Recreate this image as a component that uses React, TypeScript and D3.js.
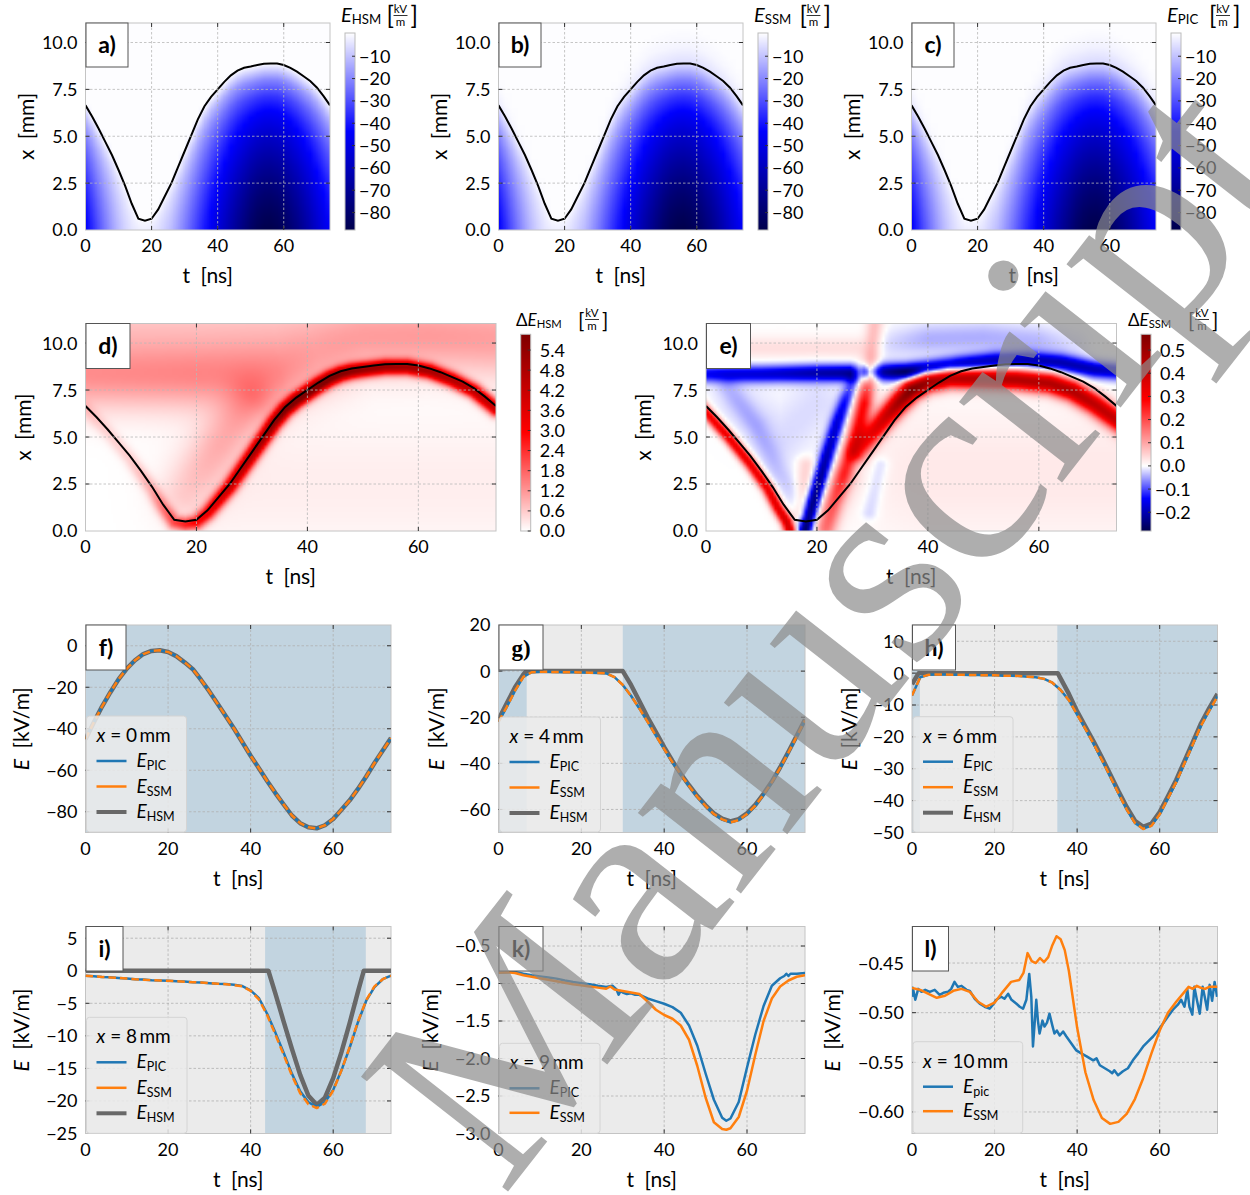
import React, { useMemo } from "react";
import * as d3 from "d3";

// ======================= DATA =======================
// time samples (ns)
const tGrid = [0,2,4,6,8,10,12,14,16,18,20,22,24,26,28,30,32,34,36,38,40,42,44,46,48,50,52,54,56,58,60,62,64,66,68,70,72,74];
// black curve: sheath edge (mm)
const sheathEdge = [6.65,6.05,5.4,4.7,4.0,3.2,2.35,1.4,0.6,0.5,0.6,1.1,1.8,2.5,3.35,4.2,5.05,5.9,6.6,7.1,7.5,7.9,8.25,8.5,8.65,8.72,8.8,8.87,8.88,8.88,8.8,8.65,8.45,8.2,7.95,7.6,7.15,6.65];
// field at electrode x = 0 (kV/m)
const fieldAtWall = [-45,-37,-29.3,-22.5,-16.2,-11,-7,-4,-2.5,-2.2,-3,-5,-8,-11.3,-16.5,-22,-28,-34,-40,-46.5,-53,-59,-65.2,-71,-76.5,-81.8,-85.5,-87.5,-88,-86.5,-83.5,-79,-74.5,-69,-63,-56.5,-50.5,-44.5];
// field profile E/E(0) versus x / sheath edge
const shapeRatio = [0,0.1,0.2,0.3,0.4,0.5,0.6,0.7,0.8,0.9,1.0,1.1,1.2];
const shapeHSM = [1,0.96,0.91,0.85,0.78,0.70,0.62,0.52,0.40,0.24,0,0,0];
const shapeSSM = [1,0.96,0.91,0.85,0.78,0.70,0.62,0.52,0.40,0.25,0.06,0.015,0];
const shapePIC = [1,0.96,0.91,0.85,0.78,0.70,0.62,0.52,0.41,0.26,0.07,0.02,0];

// ΔE_HSM structures: [t, x, value] ridges and their width (px)
const dEdgeRidge = [[0,6.5,0.4],[4,5.25,0.45],[8,3.85,0.55],[12,2.2,0.9],[14,1.25,1.4],[16,0.45,2.0],[18,0.35,2.4],[20,0.45,2.8],[22,0.95,3.2],[24,1.65,3.6],[26,2.35,4.0],[28,3.2,4.3],[30,4.05,4.6],[32,4.9,4.9],[34,5.75,5.2],[36,6.45,5.5],[38,6.95,5.7],[40,7.35,5.8],[42,7.75,5.7],[44,8.1,5.5],[46,8.35,5.2],[48,8.5,5.0],[50,8.58,4.8],[54,8.72,4.6],[58,8.72,4.5],[62,8.5,4.5],[66,8.05,4.4],[70,7.45,4.3],[74,6.5,4.2]];
const dUpperBand = [[-3,8.3,1.25],[20,8.3,1.35],[35,8.45,1.25],[42,9.0,0.9],[50,9.8,0.7],[62,9.9,0.7],[77,9.6,0.7]];
const dTopStrip = [[-3,10.9,0.55],[77,10.9,0.55]];
const dWedge = [[18,2.0,0.5],[24,4.5,0.8],[30,6.8,0.9]];
const dInsideFaint = [[26,2.5,0.2],[77,2.5,0.2]];
const dWidths = [5, 24, 22, 18, 45];

// ΔE_SSM structures
const eBlueBand = [[-3,8.35,-0.14],[10,8.35,-0.17],[20,8.4,-0.2],[26,8.4,-0.22],[27.7,8.4,-0.1],[28.8,8.42,-0.2],[29.6,8.45,-0.11],[32,8.45,-0.22],[36,8.45,-0.28],[40,8.6,-0.25],[46,8.85,-0.22],[52,9.05,-0.2],[58,9.1,-0.2],[64,8.95,-0.2],[70,8.6,-0.2],[77,8.4,-0.17]];
const eBlueHalo = [[32,9.9,-0.02],[40,10.2,-0.045],[50,10.3,-0.045],[60,10.1,-0.04],[66,9.8,-0.02]];
const eBlueStrand = [[17.6,-0.3,-0.28],[18.8,1.0,-0.27],[20.3,2.5,-0.24],[22,4.2,-0.2],[23.7,5.8,-0.17],[25.2,7.0,-0.13],[26.5,7.9,-0.08]];
const eBlueLeft = [[4,7.6,-0.03],[9,5.6,-0.035],[13,3.2,-0.03],[16.5,1.6,-0.025]];
const eBlueWide = [[6,6.8,-0.015],[14,5.0,-0.02],[20,6.8,-0.02]];
const eRedEdgeLeft = [[-1,6.65,0.3],[4,5.0,0.33],[8,3.55,0.33],[11,2.3,0.33],[13,1.2,0.35],[14.5,0.5,0.38],[15.5,-0.3,0.38]];
const eRedStrand = [[21.5,-0.3,0.08],[23,1.5,0.12],[25,3.2,0.2],[27,5.0,0.28],[28.5,6.8,0.28],[29.5,8.5,0.1],[30.5,11.3,0.07]];
const eRedRising = [[27.5,4.2,0.2],[30,5.2,0.32],[32.5,6.1,0.4],[35,6.9,0.5],[37,7.5,0.58],[40,7.95,0.52],[44,8.15,0.45],[50,8.1,0.45],[56,8.05,0.45],[62,7.85,0.45],[66,7.45,0.45],[70,6.75,0.42],[76,5.5,0.4]];
const eRedPale = [[21,0.3,0.08],[25,2.8,0.06]];
const eRedStrip = [[17.2,1.0,0.05],[18,3.5,0.05]];
const ePinkTop = [[-3,9.75,0.035],[27,9.75,0.035]];
const ePinkLower = [[40,3,0.025],[77,3,0.025]];
const eBlueRight = [[29.5,1.0,-0.03],[31.5,3.5,-0.03]];
const eWidths = [6, 11, 5, 8, 20, 4, 6, 7, 10, 6, 8, 50, 6];

// line panels
const fSpans = [[0,74]];
const gSpans = [[0,6.8],[30,74]];
const hSpans = [[0,1.9],[35.2,74]];
const iSpans = [[43.5,67.9]];

const gPic = [-22,-15.5,-8.5,-2.5,-0.5,-0.3,-0.3,-0.4,-0.5,-0.5,-0.6,-0.7,-0.8,-1.0,-2.6,-6,-10.7,-16.2,-22,-28,-33.8,-39.5,-44.8,-49.8,-54.5,-58.5,-62,-64.3,-65.5,-64.5,-62,-58.3,-53.5,-48.2,-42,-35.3,-28.3,-21.3];
const gSsm = [-22,-15.5,-8.5,-2.5,-0.5,-0.3,-0.3,-0.4,-0.5,-0.5,-0.6,-0.7,-0.8,-1.0,-2.6,-6,-10.7,-16.2,-22,-28,-33.8,-39.5,-44.8,-49.8,-54.5,-58.5,-62,-64.3,-65.6,-64.6,-62,-58.3,-53.5,-48.2,-42,-35.3,-28.3,-21.3];
const gHsmT = [0,2,4,6,6.7,30,32,34,36,38,40,42,44,46,48,50,52,54,56,58,60,62,64,66,68,70,72,74];
const gHsm = [-21,-14,-7,-1.5,0,0,-6,-13,-20,-26.5,-33,-39,-44.5,-49.5,-54.2,-58.2,-61.7,-64,-65.2,-64.2,-61.7,-58,-53.2,-47.9,-41.7,-35,-28,-21];

const hPic = [-7,-1.3,-0.5,-0.4,-0.4,-0.5,-0.5,-0.6,-0.6,-0.7,-0.7,-0.8,-0.8,-0.9,-1.1,-1.3,-1.8,-3,-5.3,-8.5,-13,-17.5,-22.2,-27.2,-32.4,-37.7,-42.8,-47,-48.8,-47.8,-44.3,-39.3,-34.2,-28.3,-22.4,-16.5,-11.8,-7.3];
const hSsm = [-7,-1.3,-0.5,-0.4,-0.4,-0.5,-0.5,-0.6,-0.6,-0.7,-0.7,-0.8,-0.8,-0.9,-1.1,-1.3,-1.8,-3,-5.3,-8.5,-13,-17.5,-22.2,-27.2,-32.4,-37.7,-42.8,-47,-48.9,-47.9,-44.3,-39.3,-34.2,-28.3,-22.4,-16.5,-11.8,-7.3];
const hHsmT = [0,1.6,35.3,38,40,42,44,46,48,50,52,54,56,58,60,62,64,66,68,70,72,74];
const hHsm = [-3.5,0,0,-6.5,-12,-16.8,-21.5,-26.5,-31.7,-37,-42,-46.3,-48.2,-47.2,-43.6,-38.6,-33.5,-27.6,-21.7,-15.8,-11,-6.5];

const iPic = [-0.75,-0.85,-0.95,-1.0,-1.1,-1.2,-1.3,-1.35,-1.45,-1.5,-1.55,-1.6,-1.65,-1.75,-1.8,-1.9,-2.0,-2.05,-2.15,-2.35,-3.0,-4.2,-6.6,-9.5,-12.6,-15.8,-18.5,-20.2,-20.9,-20.2,-18.3,-15.3,-11.8,-7.9,-4.6,-2.5,-1.3,-0.75];
const iSsm = [-0.75,-0.85,-0.95,-1.02,-1.1,-1.2,-1.3,-1.37,-1.45,-1.5,-1.55,-1.6,-1.67,-1.75,-1.8,-1.9,-2.0,-2.07,-2.2,-2.4,-3.1,-4.4,-6.8,-9.8,-12.9,-16.1,-18.8,-20.5,-21.1,-20.4,-18.4,-15.3,-11.7,-7.8,-4.5,-2.4,-1.3,-0.75];
const iHsmT = [0,44.3,46,48,50,52,54,56,58,60,62,64,66,67.4,74];
const iHsm = [0,0,-3.5,-7.8,-12,-16,-19.2,-20.6,-19.5,-16.5,-12.5,-8,-3.2,0,0];

const kPicT = [0,2,4,6,8,10,12,14,16,18,20,22,24,26,27.5,28.5,29,29.5,30,31,32,33,34,36,38,40,42,44,46,48,50,52,54,55,56,58,60,62,64,66,68,69,69.5,70,70.5,72,74];
const kPic = [-0.857,-0.85,-0.845,-0.87,-0.89,-0.905,-0.92,-0.935,-0.96,-0.98,-0.995,-1.01,-1.03,-1.045,-1.03,-1.08,-1.15,-1.1,-1.12,-1.14,-1.13,-1.15,-1.15,-1.2,-1.235,-1.27,-1.315,-1.39,-1.56,-1.83,-2.2,-2.55,-2.79,-2.83,-2.8,-2.58,-2.12,-1.68,-1.3,-1.03,-0.93,-0.9,-0.87,-0.9,-0.87,-0.87,-0.86];
const kSsmT = [0,2,4,6,8,10,12,14,16,18,20,22,24,26,27,28,30,32,34,36,38,40,42,44,46,48,50,52,54,55,56,58,60,62,64,66,68,70,72,74];
const kSsm = [-0.857,-0.85,-0.86,-0.89,-0.91,-0.93,-0.95,-0.97,-0.99,-1.01,-1.025,-1.04,-1.055,-1.07,-1.04,-1.08,-1.1,-1.12,-1.14,-1.24,-1.35,-1.42,-1.47,-1.56,-1.75,-2.1,-2.52,-2.85,-2.94,-2.95,-2.93,-2.78,-2.43,-1.95,-1.5,-1.2,-1.04,-0.96,-0.91,-0.89];

const lSsmT = [0,2,4,6,8,10,12,14,16,18,20,22,24,26,27,28,29,30,31,32,33,34,35,36,37,38,40,42,44,46,48,50,52,54,56,58,60,62,64,66,67,68,69,70,71,72,74];
const lSsm = [-0.475,-0.477,-0.481,-0.485,-0.483,-0.478,-0.476,-0.479,-0.489,-0.494,-0.490,-0.479,-0.469,-0.467,-0.460,-0.440,-0.448,-0.450,-0.445,-0.449,-0.444,-0.432,-0.423,-0.426,-0.437,-0.458,-0.515,-0.560,-0.588,-0.606,-0.612,-0.610,-0.602,-0.587,-0.566,-0.541,-0.518,-0.500,-0.489,-0.479,-0.474,-0.476,-0.473,-0.475,-0.476,-0.474,-0.474];
const lPicT = [0,0.2,0.8,1.5,2.3,3.2,4.3,5.5,6.7,7.6,8.7,9.5,10.3,11.1,12.0,13.2,14.0,15.2,16.4,17.6,18.8,19.6,20.4,21.6,22.4,23.3,24.1,25.3,26.1,26.9,27.7,28.4,28.9,29.3,29.7,30.1,30.5,30.9,31.6,32.1,32.7,33.3,34.0,34.5,35.1,35.8,36.6,37.4,38.6,39.8,41.0,42.3,43.9,44.7,45.5,46.7,47.9,48.5,49.0,49.9,51.1,52.3,53.5,54.8,56.0,57.2,58.4,59.6,60.8,62.0,63.2,64.4,65.2,66.0,66.7,67.2,67.9,68.4,69.0,69.7,70.4,70.9,71.5,72.1,72.7,73.3,73.9];
const lPic = [-0.484,-0.475,-0.487,-0.476,-0.479,-0.477,-0.479,-0.477,-0.482,-0.480,-0.479,-0.476,-0.469,-0.474,-0.473,-0.477,-0.478,-0.486,-0.491,-0.494,-0.496,-0.492,-0.487,-0.484,-0.486,-0.481,-0.487,-0.491,-0.494,-0.496,-0.487,-0.461,-0.484,-0.534,-0.511,-0.487,-0.508,-0.521,-0.508,-0.514,-0.510,-0.501,-0.513,-0.521,-0.518,-0.523,-0.519,-0.524,-0.531,-0.538,-0.541,-0.544,-0.548,-0.546,-0.553,-0.556,-0.559,-0.561,-0.558,-0.563,-0.559,-0.556,-0.548,-0.541,-0.534,-0.529,-0.524,-0.518,-0.511,-0.504,-0.497,-0.492,-0.487,-0.494,-0.477,-0.494,-0.502,-0.474,-0.487,-0.501,-0.474,-0.484,-0.497,-0.472,-0.488,-0.469,-0.484];

const heatXTicks = [0,20,40,60];
const heatYTicks = [0,2.5,5,7.5,10];
const cbTicksE = [-80,-70,-60,-50,-40,-30,-20,-10];
const cbTicksD = [0,0.6,1.2,1.8,2.4,3.0,3.6,4.2,4.8,5.4];
const cbTicksDE = [-0.2,-0.1,0,0.1,0.2,0.3,0.4,0.5];

// ======================= HELPERS =======================
const FONT = "Lato, 'DejaVu Sans', sans-serif";
const TICK_FS = 18;
const LAB_FS = 21;
const minus = (s: string) => s.replace(/-/g, "\u2212");
const T_MAX = 74;
const X_MAX = 11.04;

const seismicStops = [[0,0,0,77],[0.25,0,0,255],[0.5,255,255,255],[0.75,255,0,0],[1,128,0,0]];
function seismic(s: number): number[] {
  s = Math.max(0, Math.min(1, s));
  for (let i = 1; i < seismicStops.length; i++) {
    if (s <= seismicStops[i][0]) {
      const a = seismicStops[i - 1], b = seismicStops[i];
      const f = (s - a[0]) / (b[0] - a[0]);
      return [a[1] + f * (b[1] - a[1]), a[2] + f * (b[2] - a[2]), a[3] + f * (b[3] - a[3])];
    }
  }
  return [128, 0, 0];
}
const E_LO = -87.8, E_HI = 0.4;
const D_HI = 5.87;
const DE_LO = -0.281, DE_HI = 0.568;
const normE = (v: number) => 0.5 * (v - E_LO) / (E_HI - E_LO);
const normD = (v: number) => 0.5 + 0.5 * v / D_HI;
const normDE = (v: number) => (v < 0 ? 0.5 - 0.5 * v / DE_LO : 0.5 + 0.5 * v / DE_HI);

function lookup(xs: number[], ys: number[], r: number) {
  if (r <= xs[0]) return ys[0];
  if (r >= xs[xs.length - 1]) return ys[ys.length - 1];
  const i = d3.bisectRight(xs, r) - 1;
  const f = (r - xs[i]) / (xs[i + 1] - xs[i]);
  return ys[i] + f * (ys[i + 1] - ys[i]);
}

function featureSum(feats: number[][][], widths: number[], t: number, x: number, sx: number, sy: number) {
  let sum = 0;
  const px = t * sx, py = x * sy;
  feats.forEach((pts, k) => {
    let best = Infinity, amp = 0;
    for (let i = 0; i < pts.length - 1; i++) {
      const ax = pts[i][0] * sx, ay = pts[i][1] * sy;
      const dx = pts[i + 1][0] * sx - ax, dy = pts[i + 1][1] * sy - ay;
      const L2 = dx * dx + dy * dy;
      let u = L2 > 0 ? ((px - ax) * dx + (py - ay) * dy) / L2 : 0;
      u = Math.max(0, Math.min(1, u));
      const qx = ax + u * dx - px, qy = ay + u * dy - py;
      const d2 = qx * qx + qy * qy;
      if (d2 < best) { best = d2; amp = pts[i][2] + u * (pts[i + 1][2] - pts[i][2]); }
    }
    const s = widths[k];
    sum += amp * Math.exp(-best / (2 * s * s));
  });
  return sum;
}

function raster(cols: number, rows: number, val: (c: number, r: number) => number, norm: (v: number) => number) {
  const cv = document.createElement("canvas");
  cv.width = cols; cv.height = rows;
  const ctx = cv.getContext("2d")!;
  const img = ctx.createImageData(cols, rows);
  for (let r = 0; r < rows; r++) for (let c = 0; c < cols; c++) {
    const col = seismic(norm(val(c, r)));
    const k = 4 * (r * cols + c);
    img.data[k] = col[0]; img.data[k + 1] = col[1]; img.data[k + 2] = col[2]; img.data[k + 3] = 255;
  }
  ctx.putImageData(img, 0, 0);
  return cv.toDataURL();
}

const X_ROWS = 111; // x = 11.0 .. 0.0 step 0.1
const rowX = (r: number) => (X_ROWS - 1 - r) * 0.1;

function buildImages() {
  const heat = (shape: number[]) => raster(tGrid.length, X_ROWS, (c, r) => {
    const ratio = rowX(r) / sheathEdge[c];
    return fieldAtWall[c] * lookup(shapeRatio, shape, ratio);
  }, normE);
  const sx = (496 - 85.5) / T_MAX, sy = (531 - 323.5) / X_MAX;
  const FT = 149;
  const dFeats = [dEdgeRidge, dUpperBand, dTopStrip, dWedge, dInsideFaint];
  const eFeats = [eBlueBand, eBlueHalo, eBlueStrand, eBlueLeft, eBlueWide, eRedEdgeLeft, eRedStrand, eRedRising, eRedPale, eRedStrip, ePinkTop, ePinkLower, eBlueRight];
  const dImg = raster(FT, X_ROWS, (c, r) => Math.max(0, featureSum(dFeats, dWidths, c * 0.5, rowX(r), sx, sy)), normD);
  const eImg = raster(FT, X_ROWS, (c, r) => featureSum(eFeats, eWidths, c * 0.5, rowX(r), sx, sy), normDE);
  const bar = (lo: number, hi: number, norm: (v: number) => number) =>
    raster(1, 256, (c, r) => lo + (hi - lo) * (1 - (r + 0.5) / 256), norm);
  return {
    a: heat(shapeHSM), b: heat(shapeSSM), c: heat(shapePIC), d: dImg, e: eImg,
    cbE: bar(E_LO, E_HI, normE), cbD: bar(0, D_HI, normD), cbDE: bar(DE_LO, DE_HI, normDE),
  };
}

type Box = { x0: number; x1: number; y0: number; y1: number };

function Decor({ box, xs, ys, xTicks, yTicks, yFmt, grid }: any) {
  const inside = (p: number, a: number, b: number) => p > Math.min(a, b) + 0.8 && p < Math.max(a, b) - 0.8;
  const gx = xTicks.filter((t: number) => inside(xs(t), box.x0, box.x1));
  const gy = yTicks.filter((v: number) => inside(ys(v), box.y0, box.y1));
  return (
    <g>
      {gx.map((t: number) => <line key={"gx" + t} x1={xs(t)} x2={xs(t)} y1={box.y0} y2={box.y1} stroke={grid} strokeWidth={0.8} strokeDasharray="2.5,2" />)}
      {gy.map((v: number) => <line key={"gy" + v} x1={box.x0} x2={box.x1} y1={ys(v)} y2={ys(v)} stroke={grid} strokeWidth={0.8} strokeDasharray="2.5,2" />)}
      <rect x={box.x0} y={box.y0} width={box.x1 - box.x0} height={box.y1 - box.y0} fill="none" stroke="#c4c4c4" strokeWidth={1} />
      {gx.map((t: number) => <g key={"tx" + t}>
        <line x1={xs(t)} x2={xs(t)} y1={box.y1} y2={box.y1 - 4} stroke="#333" strokeWidth={1} />
        <line x1={xs(t)} x2={xs(t)} y1={box.y0} y2={box.y0 + 4} stroke="#333" strokeWidth={1} />
      </g>)}
      {gy.map((v: number) => <g key={"ty" + v}>
        <line x1={box.x0} x2={box.x0 + 4} y1={ys(v)} y2={ys(v)} stroke="#333" strokeWidth={1} />
        <line x1={box.x1} x2={box.x1 - 4} y1={ys(v)} y2={ys(v)} stroke="#333" strokeWidth={1} />
      </g>)}
      {xTicks.map((t: number) => <text key={"lx" + t} x={xs(t)} y={box.y1 + 22} textAnchor="middle" fontSize={TICK_FS}>{minus(String(t))}</text>)}
      {yTicks.map((v: number) => <text key={"ly" + v} x={box.x0 - 8} y={ys(v)} dy="0.36em" textAnchor="end" fontSize={TICK_FS}>{minus(yFmt(v))}</text>)}
    </g>
  );
}

function PanelLabel({ x, y, w, h, text, serif }: any) {
  return (
    <g>
      <rect x={x} y={y} width={w} height={h} fill="#fff" stroke="#555" strokeWidth={1} />
      <text x={x + w / 2} y={y + h / 2 + 8} textAnchor="middle" fontSize={23} fontWeight={700}
        fontFamily={serif ? "'Liberation Serif', serif" : FONT}>{text}</text>
    </g>
  );
}

function XLabel({ box }: { box: Box }) {
  return <text x={(box.x0 + box.x1) / 2} y={box.y1 + 53} textAnchor="middle" fontSize={LAB_FS}>t{"\u2002"}[ns]</text>;
}
function YLabel({ box, off, field }: any) {
  const cx = box.x0 - off, cy = (box.y0 + box.y1) / 2;
  return (
    <text transform={`translate(${cx},${cy}) rotate(-90)`} textAnchor="middle" dy="0.35em" fontSize={LAB_FS}>
      {field ? <><tspan fontStyle="italic">E</tspan>{"\u2002"}[kV/m]</> : <>x{"\u2002"}[mm]</>}
    </text>
  );
}

function CbLabel({ x, y, sub, delta, fs, bOff }: any) {
  const bx = x + bOff;
  return (
    <g>
      <text x={x} y={y} fontSize={fs}>
        {delta ? "\u0394" : ""}<tspan fontStyle="italic">E</tspan>
        <tspan fontSize={fs * 0.66} dy={2}>{sub}</tspan>
      </text>
      <text x={bx} y={y + 2} fontSize={fs * 1.22}>[</text>
      <text x={bx + 14} y={y - 9} fontSize={11.5} textAnchor="middle">kV</text>
      <line x1={bx + 7} x2={bx + 21} y1={y - 6.5} y2={y - 6.5} stroke="#000" strokeWidth={0.8} />
      <text x={bx + 14} y={y + 3.5} fontSize={11.5} textAnchor="middle">m</text>
      <text x={bx + 24} y={y + 2} fontSize={fs * 1.22}>]</text>
    </g>
  );
}

function Colorbar({ cb, img, lo, hi, ticks, fmt }: any) {
  const ys = d3.scaleLinear().domain([lo, hi]).range([cb.y1, cb.y0]);
  return (
    <g>
      <image href={img} x={cb.x0} y={cb.y0} width={cb.x1 - cb.x0} height={cb.y1 - cb.y0} preserveAspectRatio="none" />
      <rect x={cb.x0} y={cb.y0} width={cb.x1 - cb.x0} height={cb.y1 - cb.y0} fill="none" stroke="#bbb" strokeWidth={1} />
      {ticks.map((v: number) => <g key={v}>
        <line x1={cb.x1} x2={cb.x1 - 3} y1={ys(v)} y2={ys(v)} stroke="#333" strokeWidth={1} />
        <text x={cb.x1 + (v < 0 ? 4 : 9)} y={ys(v)} dy="0.36em" fontSize={TICK_FS}>{minus(fmt(v))}</text>
      </g>)}
    </g>
  );
}

function HeatPanel({ id, box, img, cols, colStep, rowsTop, label, lw, lh, yOff, children }: any) {
  const xs = d3.scaleLinear().domain([0, T_MAX]).range([box.x0, box.x1]);
  const ys = d3.scaleLinear().domain([0, X_MAX]).range([box.y1, box.y0]);
  const line = d3.line<number>().x((_, i) => xs(tGrid[i])).y((v) => ys(v));
  const t0 = -colStep / 2, t1 = (cols - 0.5) * colStep;
  return (
    <g>
      <clipPath id={"clip" + id}><rect x={box.x0} y={box.y0} width={box.x1 - box.x0} height={box.y1 - box.y0} /></clipPath>
      <g clipPath={`url(#clip${id})`}>
        <image href={img} x={xs(t0)} y={ys(rowsTop)} width={xs(t1) - xs(t0)} height={ys(-0.05) - ys(rowsTop)} preserveAspectRatio="none" />
        <path d={line(sheathEdge) || ""} fill="none" stroke="#000" strokeWidth={2} />
      </g>
      <Decor box={box} xs={xs} ys={ys} xTicks={heatXTicks} yTicks={heatYTicks} yFmt={d3.format(".1f")} grid="#b8b8b8" />
      <PanelLabel x={box.x0 + 0.5} y={box.y0} w={lw} h={lh} text={label} />
      <XLabel box={box} />
      <YLabel box={box} off={yOff} />
      {children}
    </g>
  );
}

const SER: any = {
  hsm: { stroke: "#686868", width: 4.5 },
  pic: { stroke: "#1f77b4", width: 2.5 },
  ssm: { stroke: "#ff7f0e", width: 2.5, dash: "7.5,4" },
  ssmSolid: { stroke: "#ff7f0e", width: 2.5 },
};

function LinePanel({ p }: any) {
  const box: Box = p.box;
  const xs = d3.scaleLinear().domain([0, T_MAX]).range([box.x0, box.x1]);
  const ys = d3.scaleLinear().domain(p.yDomain).range([box.y1, box.y0]);
  const mk = (ts: number[], vs: number[]) =>
    d3.line<number>().x((_, i) => xs(ts[i])).y((v) => ys(v))(vs) || "";
  const L = p.legend;
  return (
    <g>
      <clipPath id={"clip" + p.id}><rect x={box.x0} y={box.y0} width={box.x1 - box.x0} height={box.y1 - box.y0} /></clipPath>
      <rect x={box.x0} y={box.y0} width={box.x1 - box.x0} height={box.y1 - box.y0} fill="#ebebeb" />
      {p.spans.map((s: number[], i: number) => <rect key={i} x={xs(s[0])} y={box.y0} width={xs(s[1]) - xs(s[0])} height={box.y1 - box.y0} fill="#c2d4e0" />)}
      <Decor box={box} xs={xs} ys={ys} xTicks={heatXTicks} yTicks={p.yTicks} yFmt={p.fmt} grid="#b0b0b0" />
      <g clipPath={`url(#clip${p.id})`}>
        {p.series.map((s: any, i: number) => {
          const st = SER[s.kind];
          return <path key={i} d={mk(s.t, s.v)} fill="none" stroke={st.stroke} strokeWidth={st.width} strokeDasharray={st.dash} strokeLinejoin="round" />;
        })}
      </g>
      <rect x={L.x} y={L.y} width={L.w} height={L.h} rx={3} fill="#ebebeb" fillOpacity={0.85} stroke="#d4d4d4" strokeWidth={1} />
      <text x={L.x + 10} y={L.y + 26} fontSize={19}><tspan fontStyle="italic">x</tspan>{" = " + L.xv + "\u2009mm"}</text>
      {L.entries.map((e: any, i: number) => {
        const yy = L.y + L.rows[i];
        const st = SER[e.kind];
        return <g key={i}>
          <line x1={L.x + 10} x2={L.x + 40} y1={yy} y2={yy} stroke={st.stroke} strokeWidth={e.kind === "hsm" ? 4 : 2.5} />
          <text x={L.x + 50} y={yy + 6} fontSize={19}><tspan fontStyle="italic">E</tspan><tspan fontSize={12.5} dy={3}>{e.sub}</tspan></text>
        </g>;
      })}
      <PanelLabel x={box.x0 + 0.5} y={box.y0} w={p.lw} h={p.lh} text={p.id + ")"} serif={p.id === "g"} />
      <XLabel box={box} />
      <YLabel box={box} off={p.yOff} field />
    </g>
  );
}

const rows3 = [45, 70.5, 96];
const rows2 = [45, 69.5];
const ent3 = [{ kind: "pic", sub: "PIC" }, { kind: "ssm", sub: "SSM" }, { kind: "hsm", sub: "HSM" }];

const linePanels = [
  { id: "f", box: { x0: 85.5, x1: 391, y0: 625, y1: 832.5 }, yDomain: [-90, 10], yTicks: [-80, -60, -40, -20, 0], fmt: d3.format("d"), spans: fSpans, lw: 40, lh: 45, yOff: 64,
    series: [{ t: tGrid, v: fieldAtWall, kind: "hsm" }, { t: tGrid, v: fieldAtWall, kind: "pic" }, { t: tGrid, v: fieldAtWall, kind: "ssm" }],
    legend: { x: 86.5, y: 716, w: 100, h: 116, xv: "0", rows: rows3, entries: ent3 } },
  { id: "g", box: { x0: 498.5, x1: 805, y0: 625, y1: 832.5 }, yDomain: [-70, 20], yTicks: [-60, -40, -20, 0, 20], fmt: d3.format("d"), spans: gSpans, lw: 44, lh: 45, yOff: 62,
    series: [{ t: gHsmT, v: gHsm, kind: "hsm" }, { t: tGrid, v: gPic, kind: "pic" }, { t: tGrid, v: gSsm, kind: "ssm" }],
    legend: { x: 499.5, y: 717, w: 101, h: 115, xv: "4", rows: rows3, entries: ent3 } },
  { id: "h", box: { x0: 912, x1: 1217.5, y0: 625, y1: 832.5 }, yDomain: [-50, 15.1], yTicks: [-50, -40, -30, -20, -10, 0, 10], fmt: d3.format("d"), spans: hSpans, lw: 43, lh: 45, yOff: 62,
    series: [{ t: hHsmT, v: hHsm, kind: "hsm" }, { t: tGrid, v: hPic, kind: "pic" }, { t: tGrid, v: hSsm, kind: "ssm" }],
    legend: { x: 913, y: 716.7, w: 100, h: 115.5, xv: "6", rows: rows3, entries: ent3 } },
  { id: "i", box: { x0: 85.5, x1: 391, y0: 926.5, y1: 1133.5 }, yDomain: [-25, 6.8], yTicks: [-25, -20, -15, -10, -5, 0, 5], fmt: d3.format("d"), spans: iSpans, lw: 37, lh: 44.5, yOff: 64,
    series: [{ t: iHsmT, v: iHsm, kind: "hsm" }, { t: tGrid, v: iPic, kind: "pic" }, { t: tGrid, v: iSsm, kind: "ssm" }],
    legend: { x: 86.5, y: 1017.3, w: 100.5, h: 116, xv: "8", rows: rows3, entries: ent3 } },
  { id: "k", box: { x0: 498.5, x1: 805, y0: 926.5, y1: 1133.5 }, yDomain: [-3.0, -0.24], yTicks: [-3.0, -2.5, -2.0, -1.5, -1.0, -0.5], fmt: d3.format(".1f"), spans: [], lw: 44, lh: 44.5, yOff: 68,
    series: [{ t: kPicT, v: kPic, kind: "pic" }, { t: kSsmT, v: kSsm, kind: "ssmSolid" }],
    legend: { x: 499.5, y: 1043.3, w: 100.5, h: 90, xv: "9", rows: rows2, entries: [{ kind: "pic", sub: "PIC" }, { kind: "ssmSolid", sub: "SSM" }] } },
  { id: "l", box: { x0: 912, x1: 1217.5, y0: 926.5, y1: 1133.5 }, yDomain: [-0.6217, -0.4132], yTicks: [-0.6, -0.55, -0.5, -0.45], fmt: d3.format(".2f"), spans: [], lw: 36, lh: 44.5, yOff: 79,
    series: [{ t: lPicT, v: lPic, kind: "pic" }, { t: lSsmT, v: lSsm, kind: "ssmSolid" }],
    legend: { x: 913, y: 1041.7, w: 109.7, h: 91.5, xv: "10", rows: rows2, entries: [{ kind: "pic", sub: "pic" }, { kind: "ssmSolid", sub: "SSM" }] } },
];

export default function App() {
  const im = useMemo(() => buildImages(), []);
  const fmtE = d3.format("d");
  const fmt1 = d3.format(".1f");
  const row1 = { y0: 23, y1: 230 };
  const row2 = { y0: 323.5, y1: 531 };
  return (
    <svg width={1250} height={1195} style={{ position: "absolute", left: 0, top: 0, background: "#fff" }} fontFamily={FONT}>
      <rect x={0} y={0} width={1250} height={1195} fill="#fff" />
      {/* row 1 */}
      <HeatPanel id="a" box={{ x0: 85.5, x1: 330, ...row1 }} img={im.a} cols={tGrid.length} colStep={2} rowsTop={11.05} label="a)" lw={42} lh={44} yOff={59}>
        <Colorbar cb={{ x0: 345, x1: 355, y0: 33, y1: 230 }} img={im.cbE} lo={E_LO} hi={E_HI} ticks={cbTicksE} fmt={fmtE} />
        <CbLabel x={341} y={22} sub="HSM" fs={20} bOff={45.5} />
      </HeatPanel>
      <HeatPanel id="b" box={{ x0: 498.5, x1: 743, ...row1 }} img={im.b} cols={tGrid.length} colStep={2} rowsTop={11.05} label="b)" lw={42} lh={44} yOff={59}>
        <Colorbar cb={{ x0: 758, x1: 768, y0: 33, y1: 230 }} img={im.cbE} lo={E_LO} hi={E_HI} ticks={cbTicksE} fmt={fmtE} />
        <CbLabel x={754} y={22} sub="SSM" fs={20} bOff={45.5} />
      </HeatPanel>
      <HeatPanel id="c" box={{ x0: 911.5, x1: 1156, ...row1 }} img={im.c} cols={tGrid.length} colStep={2} rowsTop={11.05} label="c)" lw={42} lh={44} yOff={59}>
        <Colorbar cb={{ x0: 1171, x1: 1181, y0: 33, y1: 230 }} img={im.cbE} lo={E_LO} hi={E_HI} ticks={cbTicksE} fmt={fmtE} />
        <CbLabel x={1167} y={22} sub="PIC" fs={20} bOff={42} />
      </HeatPanel>
      {/* row 2 */}
      <HeatPanel id="d" box={{ x0: 85.5, x1: 496, ...row2 }} img={im.d} cols={149} colStep={0.5} rowsTop={11.05} label="d)" lw={44} lh={45} yOff={62}>
        <Colorbar cb={{ x0: 520.7, x1: 530.7, y0: 334.3, y1: 531 }} img={im.cbD} lo={0} hi={D_HI} ticks={cbTicksD} fmt={fmt1} />
        <CbLabel x={516} y={326} sub="HSM" delta fs={17} bOff={62} />
      </HeatPanel>
      <HeatPanel id="e" box={{ x0: 706, x1: 1116.5, ...row2 }} img={im.e} cols={149} colStep={0.5} rowsTop={11.05} label="e)" lw={44} lh={45} yOff={62}>
        <Colorbar cb={{ x0: 1141, x1: 1151, y0: 334.3, y1: 531 }} img={im.cbDE} lo={DE_LO} hi={DE_HI} ticks={cbTicksDE} fmt={fmt1} />
        <CbLabel x={1128} y={326} sub="SSM" delta fs={17} bOff={60} />
      </HeatPanel>
      {/* rows 3-4 */}
      {linePanels.map((p) => <LinePanel key={p.id} p={p} />)}
      {/* watermark */}
      <g opacity={0.7} fill="#8c8c8c" fontFamily="'Liberation Serif', 'DejaVu Serif', serif" fontSize={285}>
        <text transform="translate(503,1198) rotate(-52)">Manuscript</text>
      </g>
    </svg>
  );
}
